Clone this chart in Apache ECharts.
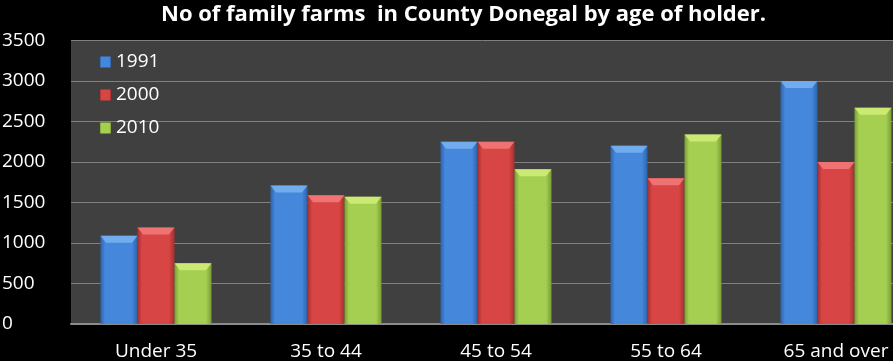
<!DOCTYPE html>
<html>
<head>
<meta charset="utf-8">
<script src="https://cdn.jsdelivr.net/npm/echarts@6/dist/echarts.min.js"></script>
<style>
  html, body { margin: 0; padding: 0; background: #000; }
  #chart { width: 893px; height: 361px; }
</style>
</head>
<body>
<div id="chart"></div>
<script>
// data
var categories = ['Under 35', '35 to 44', '45 to 54', '55 to 64', '65 and over'];
var years = ['1991', '2000', '2010'];
var data1991 = [1090, 1710, 2250, 2200, 3000];
var data2000 = [1190, 1590, 2250, 1800, 2000];
var data2010 = [750, 1570, 1910, 2340, 2670];

var fontName = '"Open Sans", Lato, sans-serif';

// colours: [edge, centre, bevel]
var palette = [
    ['#2d63ab', '#4487db', '#79b3f2'],
    ['#a52f2f', '#d84545', '#f57a7a'],
    ['#7b9c36', '#a4cf50', '#d2ef7a']
];

function barGradient(c) {
    return new echarts.graphic.LinearGradient(0, 0, 1, 0, [
        {offset: 0, color: c[0]},
        {offset: 0.12, color: c[1]},
        {offset: 0.85, color: c[1]},
        {offset: 1, color: c[0]}
    ]);
}

var allData = [data1991, data2000, data2010];
var series = [];
for (var i = 0; i < 3; i++) {
    series.push({
        name: years[i],
        type: 'bar',
        data: allData[i],
        barWidth: 37,
        barGap: '0%',
        itemStyle: {color: barGradient(palette[i])},
        z: 2
    });
}
// bevelled top of each bar
for (var j = 0; j < 3; j++) {
    series.push({
        name: years[j] + ' top',
        type: 'pictorialBar',
        data: allData[j],
        symbol: 'path://M0,0 L20,0 L17,3 L3,3 Z',
        symbolSize: [37, 7],
        symbolPosition: 'end',
        symbolOffset: [(j - 1) * 37, 0],
        itemStyle: {color: palette[j][2], opacity: 0.85},
        silent: true,
        z: 3
    });
}

var myChart = echarts.init(document.getElementById('chart'));
var option = {
    backgroundColor: '#000',
    animation: false,
    title: {
        text: 'No of family farms  in County Donegal by age of holder.',
        left: 156,
        top: -1,
        textStyle: {color: '#fff', fontFamily: fontName, fontWeight: 'bold', fontSize: 22}
    },
    legend: {
        data: years,
        orient: 'vertical',
        left: 95,
        top: 47,
        itemWidth: 11,
        itemHeight: 11,
        itemGap: 13,
        icon: 'rect',
        textStyle: {color: '#fff', fontFamily: fontName, fontSize: 19, lineHeight: 20}
    },
    grid: {
        left: 71,
        top: 40.5,
        width: 850,
        height: 283.5,
        outerBoundsMode: 'none',
        show: true,
        backgroundColor: '#404040',
        borderWidth: 0
    },
    xAxis: {
        type: 'category',
        data: categories,
        axisTick: {show: false},
        axisLine: {lineStyle: {color: '#8c8c8c', width: 2}},
        axisLabel: {color: '#fff', fontFamily: fontName, fontSize: 19, margin: 18}
    },
    yAxis: {
        type: 'value',
        min: 0,
        max: 3500,
        interval: 500,
        axisLine: {show: false},
        axisTick: {show: false},
        splitLine: {lineStyle: {color: '#808080', width: 1}},
        axisLabel: {
            color: '#fff', fontFamily: fontName, fontSize: 19, align: 'left', margin: 69,
            formatter: function (v) { return String(v); }
        }
    },
    series: series
};
myChart.setOption(option);
</script>
</body>
</html>
